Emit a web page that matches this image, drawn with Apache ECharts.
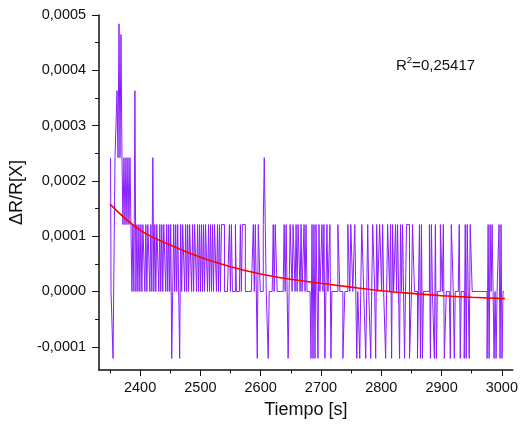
<!DOCTYPE html>
<html>
<head>
<meta charset="utf-8">
<script src="https://cdn.jsdelivr.net/npm/echarts@6/dist/echarts.min.js"></script>
<style>html,body{margin:0;padding:0;background:#fff}#c{width:521px;height:432px}</style>
</head>
<body>
<div id="c"></div>
<script>
// Signal samples, one code per sample (m=-1 step, digits = steps of LEVEL_STEP)
const T0 = 2351;
const DT = 1.65;
const LEVEL_STEP = 0.000121;
const signalCodes =
  "200mm22324" + "2521212121" + "2101030101" + "0101101011" + "0102010110" +
  "1010110101" + "01m0101011" + "m101101010" + "1101011010" + "1010101101" +
  "0101011010" + "1011100000" + "1010001000" + "0101110000" + "00001011m1" +
  "100012100m" + "0000101100" + "000001011m" + "m110110101" + "1010010100" +
  "00m1m1m10m" + "100101m010" + "01m0000001" + "1000mm0001" + "10110011m0" +
  "0m01100m01" + "00mm110m10" + "0110100m01" + "101m100101" + "0m1010m011" +
  "1mm011000m" + "01m1m00000" + "01m100m1m0" + "001101mm00" + "00m110m000" +
  "01m000m1m1" + "0m11000000" + "000000000m" + "1m1010m0m0" + "01m1m00";
const codeValues = { m: -1, "0": 0, "1": 1, "2": 2, "3": 3, "4": 4, "5": 3.84 };

// Fitted curve
const fitX = [2350, 2400, 2450, 2500, 2550, 2600, 2650, 2700, 2750, 2800, 2850, 2900, 2950, 3005];
const fitY = [0.000158, 0.000111, 0.000084, 0.0000618, 0.0000449, 0.0000316, 0.000022, 0.0000148,
              0.0000078, 0.0000014, -0.0000035, -0.0000076, -0.0000105, -0.000013];

const xMajor = [2400, 2500, 2600, 2700, 2800, 2900, 3000];
const xMinor = [2350, 2450, 2550, 2650, 2750, 2850, 2950];
const yMajor = [-0.0001, 0, 0.0001, 0.0002, 0.0003, 0.0004, 0.0005];
const yMinor = [-0.00005, 0.00005, 0.00015, 0.00025, 0.00035, 0.00045];

const signal = [];
for (let i = 0; i < signalCodes.length; i++) {
  signal.push([T0 + i * DT, codeValues[signalCodes[i]] * LEVEL_STEP]);
}
const fit = fitX.map((x, i) => [x, fitY[i]]);

const FONT = "'Liberation Sans', Arial, sans-serif";
const XMIN = 2332, XMAX = 3018, YMIN = -0.000142, YMAX = 0.0005;

const chart = echarts.init(document.getElementById('c'), null, { renderer: 'canvas' });
chart.setOption({
  animation: false,
  backgroundColor: '#fff',
  grid: { left: 99, right: 6, top: 15, bottom: 62, containLabel: false },
  title: {
    text: '{a|R}{s|2}{a|=0,25417}',
    left: 391, top: 50,
    textStyle: {
      fontWeight: 'normal',
      rich: {
        a: { fontFamily: FONT, fontSize: 15, fontWeight: 'normal', color: '#111', verticalAlign: 'bottom', lineHeight: 18 },
        s: { fontFamily: FONT, fontSize: 9.5, fontWeight: 'normal', color: '#111', verticalAlign: 'top', lineHeight: 18, padding: [0, 0, 7, 0] }
      }
    }
  },
  xAxis: [{
    type: 'value', min: XMIN, max: XMAX, position: 'bottom',
    name: 'Tiempo [s]', nameLocation: 'middle', nameGap: 31,
    nameTextStyle: { fontFamily: FONT, fontSize: 18, color: '#111' },
    axisLine: { show: true, onZero: false, lineStyle: { color: '#111', width: 1.5 } },
    axisTick: { show: true, inside: false, length: 6, customValues: xMajor, lineStyle: { color: '#111', width: 1 } },
    axisLabel: { show: true, customValues: xMajor, margin: 10, fontFamily: FONT, fontSize: 14.5, color: '#111',
      formatter: v => String(Math.round(v)) },
    splitLine: { show: false }
  }, {
    type: 'value', min: XMIN, max: XMAX, position: 'bottom', gridIndex: 0,
    axisLine: { show: false, onZero: false },
    axisTick: { show: true, inside: false, length: 3.5, customValues: xMinor, lineStyle: { color: '#111', width: 1 } },
    axisLabel: { show: false },
    splitLine: { show: false }
  }],
  yAxis: [{
    type: 'value', min: YMIN, max: YMAX, position: 'left',
    name: 'ΔR/R[X]', nameLocation: 'middle', nameGap: 58, nameRotate: 90,
    nameTextStyle: { fontFamily: FONT, fontSize: 18, color: '#111' },
    axisLine: { show: true, onZero: false, lineStyle: { color: '#111', width: 1.5 } },
    axisTick: { show: true, inside: false, length: 7, customValues: yMajor, lineStyle: { color: '#111', width: 1 } },
    axisLabel: {
      show: true, customValues: yMajor, margin: 13, fontFamily: FONT, fontSize: 14.5, color: '#111',
      formatter: v => v.toFixed(4).replace('.', ',')
    },
    splitLine: { show: false }
  }, {
    type: 'value', min: YMIN, max: YMAX, position: 'left', gridIndex: 0, offset: 0,
    axisLine: { show: false, onZero: false },
    axisTick: { show: true, inside: false, length: 4, customValues: yMinor, lineStyle: { color: '#111', width: 1 } },
    axisLabel: { show: false },
    splitLine: { show: false }
  }],
  series: [{
    type: 'line', name: 'signal', data: signal, xAxisIndex: 0, yAxisIndex: 0,
    showSymbol: false, symbol: 'none', step: 'middle',
    lineStyle: { color: '#8a1cff', width: 1 }, z: 2
  }, {
    type: 'line', name: 'fit', data: fit, xAxisIndex: 0, yAxisIndex: 0,
    showSymbol: false, symbol: 'none', smooth: 0.4,
    lineStyle: { color: '#ff0000', width: 1.6 }, z: 3
  }]
});
</script>
</body>
</html>
